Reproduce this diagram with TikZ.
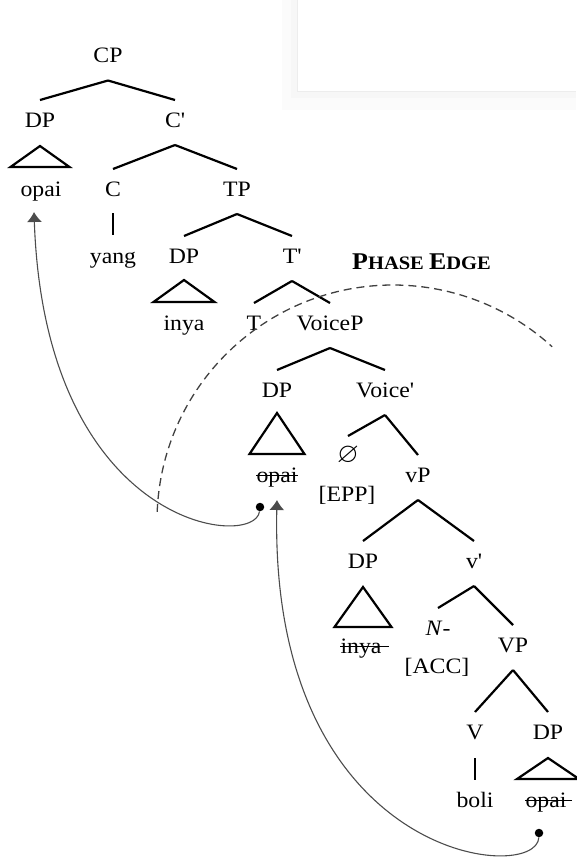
\documentclass[tikz,border=0pt]{standalone}
\usepackage{amssymb}
\usepackage{fontspec}
\setmainfont{Liberation Serif}[FakeStretch=1.08]
\usetikzlibrary{arrows.meta}
\newcommand\prm{\textquotesingle}
\begin{document}
\begin{tikzpicture}[x=1pt,y=1pt,
  lab/.style={anchor=base,inner sep=0pt,font=\fontsize{22}{26}\selectfont},
  br/.style={line width=2.2pt},
  tri/.style={line width=2.2pt,line join=miter},
  strk/.style={line width=1.1pt},
  mv/.style={line width=1.1pt,draw=black!70,-{Latex[length=10pt,width=15pt]}},
  dotn/.style={circle,fill=black,inner sep=0pt,minimum size=8.5pt},
  phase/.style={dash pattern=on 8pt off 5pt,line width=1.3pt,draw=black!75}]
\useasboundingbox (0,0) rectangle (576,-857);
% faint panel top right
\fill[black!1.5] (282,0) rectangle (576,-110);
\fill[black!3] (291,0) rectangle (576,-98);
\fill[white] (297,0) rectangle (576,-91);
\draw[black!7,line width=0.6pt] (297,0) -- (297,-91) -- (576,-91);

% labels
\node[lab] (CP) at (108,-62.5) {CP};
\node[lab] (DPa) at (40,-127) {DP};
\node[lab] (Cb) at (175,-127) {C\prm};
\node[lab] (opaiA) at (41,-196) {opai};
\node[lab] (C) at (113,-196) {C};
\node[lab] (TP) at (237,-196) {TP};
\node[lab] (yang) at (113,-263) {yang};
\node[lab] (DPb) at (184,-263) {DP};
\node[lab] (Tb) at (292,-263) {T\prm};
\node[lab] (inya) at (184,-330) {inya};
\node[lab] (T) at (254,-330) {T};
\node[lab] (VoiceP) at (330,-330) {VoiceP};
\node[lab] (DPc) at (277,-397) {DP};
\node[lab] (Vb) at (385,-397) {Voice\prm};
\node[lab] (opaiB) at (277,-482) {opai};
\node[lab,font=\fontsize{28}{30}\selectfont] (null) at (348,-462) {$\varnothing$};
\node[lab] (vP) at (418,-482) {vP};
\node[lab] (EPP) at (347,-501) {[EPP]};
\node[lab] (DPd) at (363,-568) {DP};
\node[lab] (vb) at (474,-568) {v\prm};
\node[lab] (inyaB) at (361,-653) {inya};
\node[lab] (N) at (438,-635) {\textit{N}-};
\node[lab] (VP) at (513,-652) {VP};
\node[lab] (ACC) at (437,-673) {[ACC]};
\node[lab] (V) at (475,-739) {V};
\node[lab] (DPe) at (548,-739) {DP};
\node[lab] (boli) at (475,-807) {boli};
\node[lab] (opaiC) at (546,-807) {opai};
\node[anchor=base west,inner sep=0pt,font=\bfseries] (phase) at (352,-269)
  {\fontsize{24}{28}\selectfont P\fontsize{19}{22}\selectfont HASE
   \fontsize{24}{28}\selectfont E\fontsize{19}{22}\selectfont DGE};

% branches
\foreach \p/\c in {CP/DPa,CP/Cb,Cb/C,Cb/TP,TP/DPb,TP/Tb,Tb/T,Tb/VoiceP,
  VoiceP/DPc,VoiceP/Vb,Vb/vP,vP/DPd,vP/vb,vb/N,vb/VP,VP/V,VP/DPe}
  \draw[br] ([yshift=-18pt]\p.base) -- ([yshift=27pt]\c.base);
\draw[br] ([yshift=-18pt]Vb.base) -- ([yshift=26pt]null.base);
\draw[br] ([yshift=-17pt]C.base) -- ([yshift=28pt]yang.base);
\draw[br] ([yshift=-19pt]V.base) -- ([yshift=27pt]boli.base);

% triangles
\draw[tri] ([yshift=-19pt]DPa.base) -- ++(-29.5,-21) -- ++(59,0) -- cycle;
\draw[tri] ([yshift=-17pt]DPb.base) -- ++(-30.5,-22) -- ++(61,0) -- cycle;
\draw[tri] ([yshift=-16pt]DPc.base) -- ++(-27.5,-41) -- ++(55,0) -- cycle;
\draw[tri] ([yshift=-19pt]DPd.base) -- ++(-28.5,-40) -- ++(57,0) -- cycle;
\draw[tri] ([yshift=-19pt]DPe.base) -- ++(-31,-21) -- ++(62,0) -- cycle;

% strike-throughs
\draw[strk] ([yshift=6.5pt]opaiB.base west) -- ([yshift=6.5pt]opaiB.base east);
\draw[strk] ([yshift=6.5pt]inyaB.base west) -- ([xshift=7pt,yshift=6.5pt]inyaB.base east);
\draw[strk] ([yshift=6.5pt]opaiC.base west) -- ([xshift=5pt,yshift=6.5pt]opaiC.base east);

% phase edge
\coordinate (pc) at (393,-521);
\draw[phase] (pc) ++(177.8:236) arc[start angle=177.8,end angle=47.6,radius=236];

% movement arrows
\node[dotn] (d1) at (260,-507) {};
\node[dotn] (d2) at (539,-833) {};
\draw[mv] (d2) .. controls +(-2,-52) and +(-8,-362) .. ([yshift=-18pt]opaiB.base);
\draw[mv] (d1) .. controls +(-5,-43) and +(11,-318) .. ([xshift=-7pt,yshift=-16pt]opaiA.base);
\end{tikzpicture}
\end{document}
